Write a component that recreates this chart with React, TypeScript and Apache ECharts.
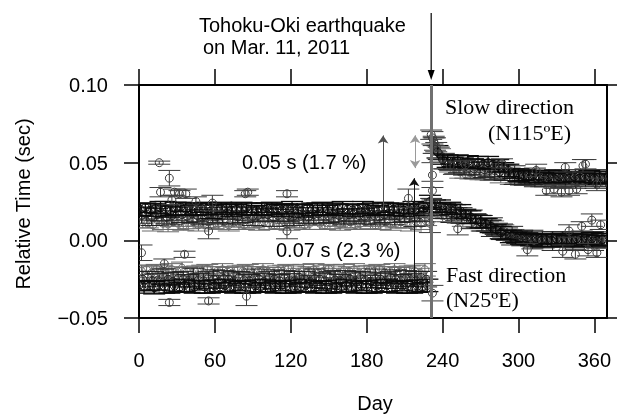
import React, { useEffect, useRef } from "react";
import * as echarts from "echarts";

// ---------- data (values in milliseconds: [day, relative time ms, error ms]) ----------
type P = [number, number, number];

const X_TICKS = [0, 60, 120, 180, 240, 300, 360];
const Y_TICKS = [-0.05, 0, 0.05, 0.1];
const EQ_DAY = 231;

const slowPreBlack: P[] = [
  [1,20,4],[5,21,3],[9,19.5,4],[13,20.5,3],[17,21,4],[21,20,5],[25,19,3],[29,20.5,4],[33,21.5,3],[37,20,4],
  [41,19.5,3],[45,20,4],[49,21,3],[53,20.5,4],[57,19,5],[61,20,3],[65,20.5,4],[69,21,3],[73,19.5,4],[77,20,3],
  [81,20.5,4],[85,21,3],[89,20,4],[93,19.5,3],[97,20,4],[101,21,3],[105,20.5,4],[109,20,3],[113,19.5,4],[117,20.5,3],
  [121,21,4],[125,20,3],[129,19,4],[133,20.5,3],[137,20,4],[141,21,3],[145,20.5,4],[149,19.5,3],[153,20,4],[157,20.5,3],
  [161,21,4],[165,20,3],[169,19.5,4],[173,20,3],[177,21,4],[181,20.5,3],[185,20,4],[189,19.5,3],[193,20.5,4],[197,21,3],
  [201,20,4],[205,20.5,3],[209,19.5,4],[213,20,3],[217,21,4],[221,20.5,3],[225,20,4],[229,21.5,3],
];
const slowPreMid: P[] = [
  [2,16,5],[6,17,4],[10,15.5,6],[14,16.5,4],[18,17.5,5],[22,15,4],[26,16,6],[30,17,4],[34,16.5,5],[38,15.5,4],
  [42,17,6],[46,16,4],[50,15,5],[54,17,4],[58,16.5,6],[62,15.5,4],[66,16,5],[70,17.5,4],[74,16,6],[78,15,4],
  [82,16.5,5],[86,17,4],[90,15.5,6],[94,16,4],[98,17,5],[102,16.5,4],[106,15,6],[110,16,4],[114,17.5,5],[118,16,4],
  [122,15.5,6],[126,17,4],[130,16,5],[134,15,4],[138,16.5,6],[142,17,4],[146,16,5],[150,15.5,4],[154,17,6],[158,16,4],
  [162,15,5],[166,16.5,4],[170,17,6],[174,16,4],[178,15.5,5],[182,17,4],[186,16,6],[190,15,4],[194,16.5,5],[198,17.5,4],
  [202,16,6],[206,15.5,4],[210,17,5],[214,16,4],[218,15,6],[222,16.5,4],[226,17,5],
];
const slowPreGray: P[] = [
  [3,12,4],[7,11,3],[11,10,4],[15,12.5,3],[19,11,4],[23,10.5,5],[27,12,3],[31,11,4],[35,9.5,3],[39,11.5,4],
  [43,12,3],[47,10,4],[51,11,3],[55,12,4],[59,10.5,3],[63,11,4],[67,12,3],[71,10,4],[75,11.5,3],[79,11,4],
  [83,10,3],[87,12,4],[91,11,3],[95,10.5,4],[99,12,3],[103,11,4],[107,10,3],[111,11.5,4],[115,12,3],[119,10.5,4],
  [123,11,3],[127,12,4],[131,10,3],[135,11,4],[139,12.5,3],[143,11,4],[147,10,3],[151,11.5,4],[155,12,3],[159,10.5,4],
  [163,11,3],[167,12,4],[171,10,3],[175,11,4],[179,12,3],[183,11.5,4],[187,10,3],[191,11,4],[195,12,3],[199,10.5,4],
  [203,11,3],[207,12,4],[211,11,3],[215,10,4],[219,12,3],[223,11,4],[227,12.5,3],
];
const fastPreGray: P[] = [
  [2,-20,4],[6,-19,3],[10,-21,4],[14,-18.5,3],[18,-20,4],[22,-21.5,3],[26,-19,4],[30,-20,3],[34,-18,4],[38,-20.5,3],
  [42,-21,4],[46,-19.5,3],[50,-20,4],[54,-18.5,3],[58,-21,4],[62,-20,3],[66,-19,4],[70,-20.5,3],[74,-21,4],[78,-19.5,3],
  [82,-20,4],[86,-18.5,3],[90,-21,4],[94,-20,3],[98,-19,4],[102,-20.5,3],[106,-21.5,4],[110,-19.5,3],[114,-20,4],[118,-18.5,3],
  [122,-20.5,4],[126,-21,3],[130,-19.5,4],[134,-20,3],[138,-19,4],[142,-21,3],[146,-20,4],[150,-18.5,3],[154,-20.5,4],[158,-21,3],
  [162,-19.5,4],[166,-20,3],[170,-19,4],[174,-21,3],[178,-20.5,4],[182,-19.5,3],[186,-20,4],[190,-18.5,3],[194,-21,4],[198,-20,3],
  [202,-19,4],[206,-20.5,3],[210,-21,4],[214,-19.5,3],[218,-20,4],[222,-21,3],[226,-19,4],
];
const fastPreMid: P[] = [
  [3,-25,5],[7,-24,4],[11,-26,6],[15,-25.5,4],[19,-23.5,5],[23,-25,4],[27,-26.5,6],[31,-24.5,4],[35,-25,5],[39,-26,4],
  [43,-24,6],[47,-25.5,4],[51,-26,5],[55,-24,4],[59,-25,6],[63,-26.5,4],[67,-24.5,5],[71,-25,4],[75,-26,6],[79,-24,4],
  [83,-25.5,5],[87,-26,4],[91,-24.5,6],[95,-25,4],[99,-26.5,5],[103,-24,4],[107,-25,6],[111,-26,4],[115,-24.5,5],[119,-25.5,4],
  [123,-26,6],[127,-24,4],[131,-25,5],[135,-26.5,4],[139,-24.5,6],[143,-25,4],[147,-26,5],[151,-24,4],[155,-25.5,6],[159,-26,4],
  [163,-24.5,5],[167,-25,4],[171,-26,6],[175,-24,4],[179,-25.5,5],[183,-26.5,4],[187,-24.5,6],[191,-25,4],[195,-26,5],[199,-24,4],
  [203,-25,6],[207,-26,4],[211,-24.5,5],[215,-25.5,4],[219,-26,6],[223,-24,4],[227,-25,5],
];
const fastPreBlack: P[] = [
  [0,-29,3],[4,-30,4],[8,-29.5,3],[12,-30.5,4],[16,-29,3],[20,-30,4],[24,-31,3],[28,-29.5,4],[32,-30,3],[36,-29,4],
  [40,-30.5,3],[44,-30,4],[48,-29,3],[52,-30,4],[56,-31,3],[60,-29.5,4],[64,-30,3],[68,-29,4],[72,-30.5,3],[76,-30,4],
  [80,-29.5,3],[84,-30,4],[88,-31,3],[92,-29.5,4],[96,-30,3],[100,-29,4],[104,-30.5,3],[108,-30,4],[112,-29.5,3],[116,-30,4],
  [120,-31,3],[124,-29.5,4],[128,-30,3],[132,-29,4],[136,-30.5,3],[140,-30,4],[144,-29.5,3],[148,-30,4],[152,-31,3],[156,-29.5,4],
  [160,-30,3],[164,-29,4],[168,-30.5,3],[172,-30,4],[176,-29.5,3],[180,-30,4],[184,-31,3],[188,-29.5,4],[192,-30,3],[196,-29,4],
  [200,-30.5,3],[204,-30,4],[208,-29.5,3],[212,-30,4],[216,-31,3],[220,-29.5,4],[224,-30,3],[228,-29,4],
];
const slowPreOut: P[] = [
  [16,50,1],[24,40,5],[17,31,3],[26,26,3],[28,31,2],[32,30,2],[37,30,3],[45,25,3],[58,24,5],[84,30,2],
  [86,31,2],[117,30,2],[55,6,5],[117,6,5],[213,27,6],
];
const fastPreOut: P[] = [
  [2,-8,5],[36,-9,2],[24,-40,2],[55,-39,2],[85,-36,6],[20,-15,3],[232,-34,5],
];
const quakeOut: P[] = [
  [231,68,3],[232,66,4],[233,64,3],[234,62,4],[235,60,3],[232,42,8],[232,32,6],[230,11,6],
];
const slowPostBlack: P[] = [
  [236,57,4],[240,52,3],[244,51,4],[248,50.5,3],[252,51,4],[256,50,3],[260,50.5,4],[264,49.5,3],[268,50,4],[272,49,3],
  [276,50,4],[280,49,3],[284,48,4],[288,47,3],[292,45,4],[296,43,3],[300,42,4],[304,41.5,3],[308,41,4],[312,42,3],
  [316,41,4],[320,40.5,3],[324,41,4],[328,40,3],[332,41,4],[336,40.5,3],[340,40,4],[344,41,3],[348,40,4],[352,40.5,3],
  [356,41,4],[360,40,3],[364,40.5,4],[368,40,3],
];
const slowPostMid: P[] = [
  [233,61,5],[237,56,4],[241,51,5],[245,49.5,4],[249,48.5,6],[253,47.5,4],[257,47,5],[261,46.5,4],[265,46,6],[269,46,4],
  [273,45.5,5],[277,45,4],[281,45,6],[285,44,4],[289,43.5,5],[293,42.5,4],[297,42,6],[301,41,4],[305,40.5,5],[309,40,4],
  [313,40.5,6],[317,40,4],[321,39.5,5],[325,40,4],[329,39.5,6],[333,40,4],[337,39.5,5],[341,40,4],[345,39.5,6],[349,40,4],
  [353,39.5,5],[357,40,4],[361,39.5,6],[365,40,4],[369,39.5,5],
];
const slowPostGray: P[] = [
  [238,55,4],[242,49,3],[246,48,4],[250,46,3],[254,44,4],[258,43,3],[262,43.5,4],[266,42.5,3],[270,43,4],[274,42,3],
  [278,42.5,4],[282,42,3],[286,41,4],[290,41.5,3],[294,40,4],[298,40,3],[302,39.5,4],[306,39,3],[310,39.5,4],[314,39,3],
  [318,38.5,4],[322,39,3],[326,39.5,4],[330,38.5,3],[334,39,4],[338,39.5,3],[342,38.5,4],[346,39,3],[350,39.5,4],[354,38.5,3],
  [358,39,4],[362,39.5,3],[366,39,4],
];
const slowPostOut: P[] = [
  [287,49.5,3],[314,45,4],[337,47,3],[351,48,4],[353,49,3],[322,32,3],[328,33,3],[334,31,3],[340,32,3],[346,33,3],
  [362,36,4],[246,48,3],[258,48.5,3],
];
const fastPostBlack: P[] = [
  [230,25,4],[234,23,3],[238,22,4],[242,21,3],[246,20.5,4],[250,20,3],[254,19,4],[258,17,3],[262,15,4],[266,14,3],
  [270,12,4],[274,11,3],[278,9,4],[282,7,3],[286,5,4],[290,3.5,3],[294,2.5,4],[298,2,3],[302,1.5,4],[306,1,3],
  [310,0.5,4],[314,1,3],[318,0,4],[322,0.5,3],[326,0,4],[330,1,3],[334,0.5,4],[338,0,3],[342,0.5,4],[346,1,3],
  [350,0,4],[354,0.5,3],[358,1,4],[362,0,3],[366,0.5,4],
];
const fastPostMid: P[] = [
  [231,22,5],[235,20,4],[239,19,5],[243,18,4],[247,17.5,6],[251,17,4],[255,16,5],[259,15,4],[263,13.5,6],[267,12.5,4],
  [271,11,5],[275,10,4],[279,8.5,6],[283,7,4],[287,5.5,5],[291,4,4],[295,3,6],[299,2,4],[303,1.5,5],[307,1,4],
  [311,0.5,6],[315,0,4],[319,0.5,5],[323,0,4],[327,-0.5,6],[331,0,4],[335,0.5,5],[339,0,4],[343,-0.5,6],[347,0,4],
  [351,0.5,5],[355,0,4],[359,-0.5,6],[363,0,4],[367,0.5,5],
];
const fastPostGray: P[] = [
  [232,19,4],[236,17,3],[240,16,4],[244,15,3],[248,15.5,4],[252,14,3],[256,13,4],[260,13.5,3],[264,12,4],[268,11,3],
  [272,10,4],[276,9,3],[280,8.5,4],[284,7,3],[288,6,4],[292,4,3],[296,3,4],[300,2,3],[304,1,4],[308,0,3],
  [312,-0.5,4],[316,0,3],[320,-1,4],[324,-0.5,3],[328,0,4],[332,-1,3],[336,-0.5,4],[340,0,3],[344,-1,4],[348,-0.5,3],
  [352,0,4],[356,-1,3],[360,-0.5,4],[364,0,3],[368,-1,4],
];
const fastPostOut: P[] = [
  [252,7.5,4],[307,-6,4],[335,-7,4],[345,-9,3],[355,-6,4],[362,-8,3],[340,6,4],[350,9,3],[358,13,4],[365,10,3],
];

// ---------- styling ----------
const SANS = "'Liberation Sans', Arial, Helvetica, sans-serif";
const SERIF = "'Liberation Serif', 'Times New Roman', serif";
const BLACK = "#0a0a0a";
const DARK = "#222222";
const GRAY = "#6a6a6a";
const MID = "#3c3c3c";

const toSec = (arr: P[]) => arr.map(([d, v, e]) => [d, v / 1000, e / 1000]);

const makeRender = (color: string, lw: number) => (_params: any, api: any) => {
  const x = api.value(0);
  const y = api.value(1);
  const e = api.value(2);
  const c = api.coord([x, y]);
  const hi = api.coord([x, y + e]);
  const lo = api.coord([x, y - e]);
  const hw = 11;
  const st = { stroke: color, lineWidth: lw, fill: "none" };
  return {
    type: "group",
    children: [
      { type: "line", shape: { x1: c[0], y1: hi[1], x2: c[0], y2: lo[1] }, style: st },
      { type: "line", shape: { x1: c[0] - hw, y1: hi[1], x2: c[0] + hw, y2: hi[1] }, style: st },
      { type: "line", shape: { x1: c[0] - hw, y1: lo[1], x2: c[0] + hw, y2: lo[1] }, style: st },
      { type: "circle", shape: { cx: c[0], cy: c[1], r: 4 }, style: { stroke: color, lineWidth: 1, fill: "none" } },
    ],
  };
};

const errSeries = (data: P[], color: string, lw = 1) => ({
  type: "custom",
  renderItem: makeRender(color, lw),
  data: toSec(data),
  encode: { x: 0, y: 1 },
  clip: true,
  silent: true,
  z: 2,
});

export default function App() {
  const ref = useRef<HTMLDivElement>(null);
  useEffect(() => {
    if (!ref.current) return;
    const chart = echarts.init(ref.current, undefined, { renderer: "svg" });
    const axisLine = { show: true, onZero: false, lineStyle: { color: "#000", width: 2 } };
    const tickStyle = { color: "#000", width: 1.5 };
    const fmtY = (v: number) => (v < 0 ? "\u2212" + Math.abs(v).toFixed(2) : v.toFixed(2));
    chart.setOption({
      animation: false,
      textStyle: { fontFamily: SANS },
      grid: { left: 139, right: 10, top: 85, bottom: 96, containLabel: false },
      xAxis: [
        {
          type: "value", min: 0, max: 370, position: "bottom",
          axisLine, splitLine: { show: false },
          axisTick: { show: true, inside: false, length: 15, customValues: X_TICKS, lineStyle: tickStyle },
          axisLabel: { show: true, customValues: X_TICKS, margin: 32, fontSize: 20, color: "#000", fontFamily: SANS },
        },
        {
          type: "value", min: 0, max: 370, position: "top",
          axisLine, splitLine: { show: false },
          axisTick: { show: true, inside: false, length: 16, customValues: X_TICKS, lineStyle: tickStyle },
          axisLabel: { show: false },
        },
      ],
      yAxis: [
        {
          type: "value", min: -0.05, max: 0.1, position: "left",
          axisLine, splitLine: { show: false },
          axisTick: { show: true, inside: false, length: 15, customValues: Y_TICKS, lineStyle: tickStyle },
          axisLabel: { show: true, customValues: Y_TICKS, margin: 31, fontSize: 20, color: "#000", fontFamily: SANS, formatter: fmtY },
        },
        {
          type: "value", min: -0.05, max: 0.1, position: "right",
          axisLine, splitLine: { show: false },
          axisTick: { show: true, inside: false, length: 15, customValues: Y_TICKS, lineStyle: tickStyle },
          axisLabel: { show: false },
        },
      ],
      series: [
        errSeries(slowPreGray, GRAY),
        errSeries(fastPreGray, GRAY),
        errSeries(slowPreMid, DARK),
        errSeries(fastPreMid, DARK),
        errSeries(slowPreBlack, BLACK, 1.3),
        errSeries(fastPreBlack, BLACK, 1.3),
        errSeries(slowPreOut, MID),
        errSeries(fastPreOut, MID),
        errSeries(slowPostGray, GRAY),
        errSeries(fastPostGray, GRAY),
        errSeries(slowPostMid, DARK),
        errSeries(fastPostMid, DARK),
        errSeries(slowPostBlack, BLACK, 1.3),
        errSeries(fastPostBlack, BLACK, 1.3),
        errSeries(slowPostOut, MID),
        errSeries(fastPostOut, MID),
        errSeries(quakeOut, MID),
        {
          type: "line", data: [], silent: true, z: 5,
          markLine: {
            silent: true, symbol: "none", label: { show: false }, animation: false,
            lineStyle: { color: "#707070", width: 3, type: "solid" },
            data: [{ xAxis: EQ_DAY }],
          },
        },
        {
          type: "line", data: [], silent: true, z: 6,
          markLine: {
            silent: true, symbol: ["none", "arrow"], symbolSize: 8, label: { show: false }, animation: false,
            data: [
              [
                { coord: [193, 0.0205], lineStyle: { color: "#505050", width: 1, type: "solid" } },
                { coord: [193, 0.0675] },
              ],
              [
                { coord: [217.5, -0.03], lineStyle: { color: "#111", width: 1, type: "solid" } },
                { coord: [217.5, 0.04] },
              ],
              [
                { coord: [218.3, 0.0465], symbol: "arrow", lineStyle: { color: "#9a9a9a", width: 1, type: "solid" } },
                { coord: [218.3, 0.0676], symbol: "arrow" },
              ],
            ],
          },
        },
      ],
    });

    const px = chart.convertToPixel({ xAxisIndex: 0 }, EQ_DAY) as number;
    chart.setOption({
      graphic: [
        { type: "line", shape: { x1: px, y1: 13, x2: px, y2: 72 }, style: { stroke: "#000", lineWidth: 1.2 } },
        { type: "polygon", shape: { points: [[px - 3.5, 70], [px + 3.5, 70], [px, 80]] }, style: { fill: "#000" } },
        { type: "text", x: 199, y: 25, style: { text: "Tohoku-Oki earthquake", font: `20px ${SANS}`, fill: "#000", textVerticalAlign: "middle" } },
        { type: "text", x: 203, y: 47, style: { text: "on Mar. 11, 2011", font: `20px ${SANS}`, fill: "#000", textVerticalAlign: "middle" } },
        { type: "text", x: 242, y: 162, z: 10, style: { text: "0.05 s (1.7 %)", font: `20px ${SANS}`, fill: "#000", textVerticalAlign: "middle" } },
        { type: "text", x: 276, y: 250, z: 10, style: { text: "0.07 s (2.3 %)", font: `20px ${SANS}`, fill: "#000", textVerticalAlign: "middle" } },
        { type: "text", x: 445, y: 106, z: 10, style: { text: "Slow direction", font: `22px ${SERIF}`, fill: "#000", textVerticalAlign: "middle" } },
        { type: "text", x: 488, y: 132, z: 10, style: { text: "(N115ºE)", font: `22px ${SERIF}`, fill: "#000", textVerticalAlign: "middle" } },
        { type: "text", x: 446, y: 274, z: 10, style: { text: "Fast direction", font: `22px ${SERIF}`, fill: "#000", textVerticalAlign: "middle" } },
        { type: "text", x: 446, y: 299, z: 10, style: { text: "(N25ºE)", font: `22px ${SERIF}`, fill: "#000", textVerticalAlign: "middle" } },
        { type: "text", x: 375, y: 403, style: { text: "Day", font: `20px ${SANS}`, fill: "#000", textAlign: "center", textVerticalAlign: "middle" } },
        { type: "text", x: 23, y: 204, rotation: Math.PI / 2, style: { text: "Relative Time (sec)", font: `20px ${SANS}`, fill: "#000", textAlign: "center", textVerticalAlign: "middle" } },
      ],
    });
    return () => chart.dispose();
  }, []);
  return <div ref={ref} style={{ position: "fixed", left: 0, top: 0, width: 617, height: 414 }} />;
}
